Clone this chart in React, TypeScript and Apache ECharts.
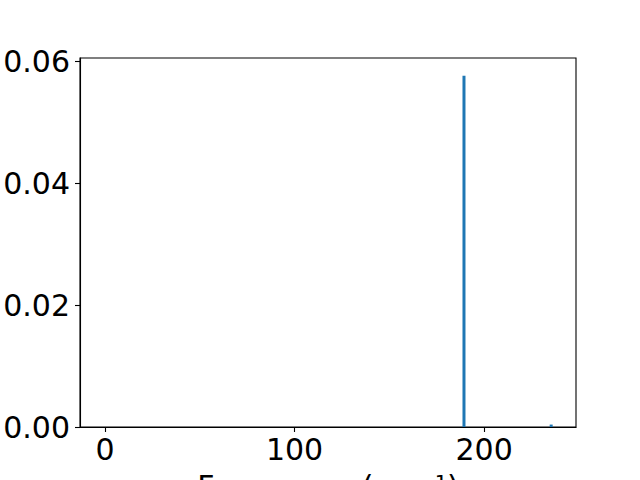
import React, { useEffect, useRef } from "react";
import * as echarts from "echarts";

const frequencies = [189.4, 235.4];
const intensities = [0.0577, 0.0004];
const xTicks = [0, 100, 200];
const yTicks = [0, 0.02, 0.04, 0.06];

export default function App() {
  const ref = useRef<HTMLDivElement>(null);
  useEffect(() => {
    const chart = echarts.init(ref.current!, null, { renderer: "svg" });
    const font = "DejaVu Sans";
    const fs = 30;
    chart.setOption({
      animation: false,
      grid: {
        left: 80,
        right: 64,
        top: 58,
        bottom: 53,
        show: true,
        borderColor: "#000",
        borderWidth: 1.1,
        backgroundColor: "transparent",
        containLabel: false,
        outerBoundsMode: "none",
      },
      xAxis: {
        type: "value",
        min: -13.2,
        max: 248.5,
        name: "Frequency (cm\u207B\u00B9)",
        nameLocation: "middle",
        nameGap: 44,
        nameTextStyle: { fontFamily: font, fontSize: fs, color: "#000", verticalAlign: "top" },
        axisLine: { show: true, onZero: false, lineStyle: { color: "#000", width: 1.1 } },
        axisTick: { show: true, length: 5, customValues: xTicks, lineStyle: { color: "#000", width: 1.1 } },
        axisLabel: {
          customValues: xTicks,
          fontFamily: font,
          fontSize: fs,
          color: "#000",
          margin: 7,
        },
        splitLine: { show: false },
      },
      yAxis: {
        type: "value",
        min: 0,
        max: 0.0606,
        axisLine: { show: true, onZero: false, lineStyle: { color: "#000", width: 1.1 } },
        axisTick: { show: true, length: 5, customValues: yTicks, lineStyle: { color: "#000", width: 1.1 } },
        axisLabel: {
          customValues: yTicks,
          fontFamily: font,
          fontSize: fs,
          color: "#000",
          margin: 10,
          formatter: (v: number) => v.toFixed(2),
        },
        splitLine: { show: false },
      },
      series: [
        {
          type: "bar",
          barWidth: 3,
          itemStyle: { color: "#1f77b4" },
          data: frequencies.map((f, i) => [f, intensities[i]]),
        },
      ],
    });
    return () => chart.dispose();
  }, []);
  return <div ref={ref} style={{ width: 640, height: 480, position: "absolute", left: 0, top: 0 }} />;
}
